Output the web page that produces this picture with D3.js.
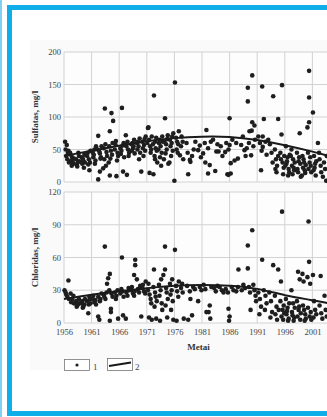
<!DOCTYPE html>
<html><head><meta charset="utf-8">
<script src="https://cdn.jsdelivr.net/npm/d3@7"></script>
<style>
html,body{margin:0;padding:0;background:#fff;overflow:hidden}
svg{display:block}
</style></head>
<body>
<script>
// ---- data ----
const xTicks = [1956,1961,1966,1971,1976,1981,1986,1991,1996,2001];
const sulfTicks = [0,50,100,150,200];
const chlorTicks = [0,30,60,90,120];

const sulfatePoints = [
[1956.2,62],[1956.5,57],[1956.3,50],[1956.7,45],[1956.4,40],[1956.8,48],[1956.6,35],[1956.9,30],
[1957.2,42],[1957.5,38],[1957.3,33],[1957.7,28],[1957.8,36],[1957.1,45],[1957.6,30],[1957.4,25],
[1958.2,35],[1958.5,30],[1958.3,27],[1958.7,40],[1958.8,32],[1958.4,24],[1958.6,45],
[1959.2,38],[1959.5,33],[1959.3,28],[1959.7,42],[1959.8,30],[1959.4,36],[1959.6,22],
[1960.2,40],[1960.5,35],[1960.3,45],[1960.7,30],[1960.6,18],[1960.8,48],[1960.4,27],
[1961.2,45],[1961.5,50],[1961.3,38],[1961.7,33],[1961.8,55],[1961.4,42],[1961.6,28],
[1962.1,50],[1962.5,44],[1962.2,71],[1962.2,4],[1962.5,16],[1962.7,38],[1962.8,55],[1962.4,47],[1962.6,36],
[1963.2,52],[1963.4,113],[1963.1,21],[1963.7,46],[1963.8,40],[1963.5,58],[1963.6,25],[1963.3,35],
[1964.6,106],[1964.3,78],[1964.3,10],[1964.2,55],[1964.5,48],[1964.7,42],[1964.8,60],[1964.4,36],[1964.1,30],[1964.9,94],
[1965.2,50],[1965.5,9],[1965.3,58],[1965.7,45],[1965.8,40],[1965.4,63],[1965.6,33],
[1966.5,114],[1966.7,16],[1966.2,52],[1966.4,48],[1966.6,56],[1966.8,60],[1966.3,43],[1966.9,38],
[1967.2,72],[1967.4,11],[1967.3,55],[1967.6,50],[1967.8,45],[1967.5,62],[1967.1,58],[1967.7,40],
[1968.2,58],[1968.5,52],[1968.3,48],[1968.7,65],[1968.8,44],[1968.4,60],[1968.6,55],
[1969.2,60],[1969.5,55],[1969.3,50],[1969.7,67],[1969.8,45],[1969.4,62],[1969.6,35],
[1970.0,16],[1970.2,62],[1970.5,57],[1970.3,52],[1970.7,48],[1970.8,70],[1970.4,40],[1970.6,66],
[1971.2,83],[1971.5,14],[1971.3,84],[1971.1,60],[1971.6,55],[1971.8,50],[1971.4,65],[1971.7,45],[1971.9,70],
[1972.3,133],[1972.2,12],[1972.1,58],[1972.5,62],[1972.6,52],[1972.8,48],[1972.4,40],[1972.7,68],[1972.9,30],[1972.5,35],
[1973.2,60],[1973.5,55],[1973.3,65],[1973.7,45],[1973.8,70],[1973.4,38],[1973.6,25],[1973.1,50],[1973.9,62],
[1974.3,98],[1974.2,62],[1974.5,58],[1974.6,50],[1974.8,72],[1974.4,44],[1974.7,66],[1974.1,35],[1974.9,28],
[1975.2,65],[1975.5,60],[1975.3,55],[1975.7,48],[1975.8,75],[1975.4,40],[1975.6,70],[1975.1,30],
[1976.1,153],[1976.0,2],[1976.3,68],[1976.5,62],[1976.7,58],[1976.4,50],[1976.8,78],[1976.6,45],
[1977.0,41],[1977.3,70],[1977.5,62],[1977.2,55],[1977.6,35],
[1978.8,34],[1978.5,12],[1978.2,60],[1978.4,45],[1978.9,31],
[1979.5,50],[1979.2,40],[1979.8,62],
[1980.3,49],[1980.6,56],[1980.8,38],
[1981.8,80],[1981.2,44],[1981.5,60],[1981.6,30],
[1982.1,52],[1982.4,26],[1982.1,13],[1982.6,62],
[1983.0,65],[1983.4,17],[1983.6,47],[1983.8,58],
[1984.0,47],[1984.4,55],[1984.7,40],
[1985.2,46],[1985.6,12],[1985.4,60],[1985.8,50],
[1986.0,98],[1986.0,57],[1986.2,29],[1985.8,11],[1986.5,65],[1986.2,13],
[1987.5,36],[1986.9,33],[1987.2,60],
[1988.1,57],[1988.7,49],[1988.4,70],[1988.9,40],
[1989.3,145],[1989.3,124],[1989.6,78],[1989.9,41],[1989.5,60],[1989.1,52],
[1990.1,164],[1990.1,92],[1990.5,87],[1990.0,79],[1990.6,65],[1990.3,55],
[1991.7,18],[1991.2,70],[1991.5,60],[1991.8,48],
[1991.9,147],[1992.2,97],[1992.0,70],[1992.0,54],[1992.5,62],[1992.7,42],
[1993.0,65],[1993.3,58],[1993.6,45],[1993.8,30],
[1993.9,132],[1994.2,50],[1994.4,35],[1994.6,25],[1994.3,20],[1994.8,40],[1994.5,15],
[1994.8,97],[1995.5,149],[1995.4,73],[1995.2,45],[1995.6,30],[1995.8,22],[1995.3,35],[1995.7,12],[1995.9,40],
[1996.2,55],[1996.5,38],[1996.3,28],[1996.7,20],[1996.8,15],[1996.4,32],[1996.6,10],[1996.1,25],[1996.9,42],
[1997.2,50],[1997.5,35],[1997.3,25],[1997.7,18],[1997.8,30],[1997.4,12],[1997.6,22],[1997.1,40],
[1998.7,75],[1998.2,45],[1998.5,32],[1998.3,20],[1998.8,28],[1998.4,15],[1998.6,38],[1998.9,8],
[1999.2,40],[1999.5,30],[1999.3,22],[1999.7,14],[1999.8,26],[1999.4,35],[1999.6,18],[1999.1,10],
[2000.4,171],[2000.4,130],[2000.4,92],[2000.1,84],[2000.2,45],[2000.5,30],[2000.3,20],[2000.7,25],[2000.8,15],[2000.6,38],
[2001.1,107],[2001.3,40],[2001.5,28],[2001.2,18],[2001.7,32],[2001.4,22],[2001.6,10],
[2002.0,60],[2002.3,35],[2002.5,25],[2002.9,8],[2002.2,45],[2002.6,15],
[2003.1,30],[2003.5,2],[2003.3,20],[2003.6,40]
];

const chloridePoints = [
[1956.1,30],[1956.4,26],[1956.8,39],[1956.6,24],[1956.3,28],[1956.9,22],
[1957.2,27],[1957.5,22],[1957.3,19],[1957.7,25],[1957.8,18],
[1958.2,20],[1958.5,17],[1958.3,15],[1958.7,22],[1958.8,18],[1958.4,16],
[1959.2,18],[1959.5,15],[1959.3,20],[1959.7,17],[1959.8,22],[1959.4,14],
[1960.2,20],[1960.5,17],[1960.4,9],[1960.7,22],[1960.8,18],[1960.6,24],
[1961.2,22],[1961.5,19],[1961.3,25],[1961.7,21],[1961.8,17],
[1962.2,24],[1962.2,6],[1962.4,3],[1962.6,22],[1962.8,27],[1962.5,20],
[1963.4,70],[1963.8,36],[1963.2,26],[1963.5,22],[1963.7,28],[1963.3,24],
[1964.3,45],[1964.0,41],[1964.5,13],[1964.5,10],[1964.3,2],[1964.6,27],[1964.8,24],[1964.2,30],
[1965.8,4],[1965.2,28],[1965.5,25],[1965.7,30],[1965.4,22],
[1966.5,60],[1966.7,7],[1966.2,27],[1966.4,31],[1966.8,24],[1966.6,29],
[1967.2,4],[1967.3,28],[1967.5,25],[1967.7,32],[1967.8,30],
[1968.2,30],[1968.5,27],[1968.3,33],[1968.7,25],[1968.8,29],
[1968.9,58],[1968.9,53],[1968.7,44],[1969.2,40],[1969.4,31],[1969.6,28],[1969.8,34],
[1970.0,6],[1970.2,32],[1970.5,29],[1970.3,35],[1970.7,27],[1970.8,38],
[1971.2,30],[1971.5,26],[1971.3,36],[1971.7,22],[1971.8,18],[1971.4,5],[1971.9,3],
[1972.3,49],[1972.2,33],[1972.5,28],[1972.6,24],[1972.8,20],[1972.4,15],[1972.7,4],
[1973.2,35],[1973.5,30],[1973.3,25],[1973.7,18],[1973.8,12],[1973.4,2],[1973.6,40],
[1974.3,70],[1974.3,49],[1974.0,44],[1974.5,32],[1974.6,28],[1974.8,22],[1974.4,16],[1974.7,5],
[1975.2,36],[1975.5,30],[1975.3,26],[1975.7,20],[1975.8,3],[1975.4,12],[1975.6,40],
[1976.1,67],[1976.3,34],[1976.5,29],[1976.7,24],[1976.4,2],[1976.8,38],
[1977.2,32],[1977.5,28],[1977.7,4],[1977.4,36],
[1978.8,29],[1978.3,34],[1978.5,3],[1978.9,22],
[1979.4,33],[1979.7,31],[1979.2,7],
[1980.3,20],[1980.6,33],[1980.9,30],
[1981.3,35],[1981.6,31],[1981.8,10],
[1982.4,16],[1982.2,10],[1982.5,4],[1982.7,33],
[1983.2,32],[1983.5,29],[1983.8,34],
[1984.2,33],[1984.6,30],[1984.9,28],
[1985.3,31],[1985.7,28],[1985.8,13],
[1986.0,6],[1985.9,2],[1986.4,33],[1986.7,30],
[1987.2,29],[1987.5,33],[1987.6,49],
[1988.2,30],[1988.5,35],[1988.8,32],
[1989.3,71],[1989.3,50],[1989.5,33],[1989.7,28],[1989.8,12],
[1990.1,85],[1990.3,35],[1990.5,30],[1990.7,25],[1990.8,20],
[1991.9,58],[1991.2,28],[1991.5,22],[1991.7,15],[1991.4,8],
[1992.2,30],[1992.5,25],[1992.7,18],[1992.4,12],
[1993.9,53],[1993.2,28],[1993.5,20],[1993.7,10],[1993.4,5],
[1994.8,49],[1994.2,25],[1994.5,15],[1994.3,8],[1994.6,3],[1994.9,12],
[1995.5,102],[1995.3,38],[1995.2,20],[1995.6,12],[1995.4,6],[1995.7,3],[1995.8,16],[1995.9,9],
[1996.2,22],[1996.5,14],[1996.3,8],[1996.7,4],[1996.8,18],[1996.4,11],[1996.6,2],
[1997.2,30],[1997.5,18],[1997.3,10],[1997.7,5],[1997.8,14],[1997.4,7],[1997.6,2],
[1998.4,47],[1998.7,40],[1998.2,20],[1998.5,12],[1998.3,6],[1998.8,3],[1998.6,15],[1998.9,9],
[1999.2,45],[1999.4,38],[1999.3,16],[1999.7,8],[1999.8,4],[1999.5,12],[1999.6,2],
[2000.3,93],[2000.4,56],[2000.1,42],[2000.6,36],[2000.2,14],[2000.5,6],[2000.7,10],[2000.8,3],
[2001.1,44],[2001.3,20],[2001.5,12],[2001.2,5],[2001.7,8],
[2002.5,43],[2002.3,16],[2002.6,9],[2002.8,4],
[2003.2,25],[2003.4,12],[2003.6,6]
];

const sulfateTrend = [[1956,40],[1961,48],[1966,56],[1971,63],[1976,68],[1981,70],[1986,70],[1991,65],[1996,57],[2001,47],[2004,40]];
const chlorideTrend = [[1956,22],[1961,26],[1966,29],[1971,32],[1976,34.5],[1981,35],[1986,34.5],[1991,32],[1996,25],[2001,21],[2004,18]];

// ---- layout ----
const W = 327, H = 417;
const svg = d3.select("body").append("svg").attr("width", W).attr("height", H);

// frame
svg.append("rect").attr("x",0).attr("y",0).attr("width",2).attr("height",H).attr("fill","#7fd0f2");
svg.append("rect").attr("x",30).attr("y",40).attr("width",W-30).attr("height",330).attr("fill","#fafafa");

const x = d3.scaleLinear().domain([1956, 2001]).range([64, 312.4]);
const ys = d3.scaleLinear().domain([0, 200]).range([182, 52]);
const yc = d3.scaleLinear().domain([0, 120]).range([323, 192]);
const xRight = 345;

function panel(y, ticks, pts, trend, title) {
  const g = svg.append("g");
  g.append("rect").attr("x", x(1956)).attr("y", y(ticks[ticks.length-1]))
    .attr("width", xRight - x(1956)).attr("height", y(0) - y(ticks[ticks.length-1])).attr("fill", "#fdfdfd");
  // gridlines
  g.selectAll(".hg").data(ticks).join("line")
    .attr("x1", x(1956)).attr("x2", xRight).attr("y1", d => y(d)).attr("y2", d => y(d))
    .attr("stroke", "#d2d2d2").attr("stroke-width", 1);
  const vt = xTicks.concat([2006]);
  g.selectAll(".vg").data(vt).join("line")
    .attr("x1", d => x(d)).attr("x2", d => x(d)).attr("y1", y(0)).attr("y2", y(ticks[ticks.length-1]))
    .attr("stroke", "#d2d2d2").attr("stroke-width", 1);
  // y axis labels
  const ax = d3.axisLeft(y).tickValues(ticks).tickSize(0).tickPadding(3);
  const a = g.append("g").attr("transform", `translate(${x(1956)},0)`).call(ax);
  a.select(".domain").remove();
  a.selectAll("text").attr("font-family", "Liberation Serif").attr("font-size", 8.5).attr("fill", "#444");
  // points
  g.selectAll(".pt").data(pts).join("circle")
    .attr("cx", d => x(d[0])).attr("cy", d => y(d[1])).attr("r", 2.3).attr("fill", "#1e1e1e");
  // trend
  g.append("path").datum(trend)
    .attr("d", d3.line().x(d => x(d[0])).y(d => y(d[1])).curve(d3.curveBasis))
    .attr("fill", "none").attr("stroke", "#1a1a1a").attr("stroke-width", 2);
  // title
  const cy = (y(0) + y(ticks[ticks.length-1])) / 2;
  g.append("text").attr("transform", `translate(38,${cy}) rotate(-90)`)
    .attr("text-anchor", "middle").attr("font-family", "Liberation Serif").attr("font-weight", "bold")
    .attr("font-size", 9).attr("fill", "#333").text(title);
}
panel(ys, sulfTicks, sulfatePoints, sulfateTrend, "Sulfatas, mg/l");
panel(yc, chlorTicks, chloridePoints, chlorideTrend, "Chloridas, mg/l");

// x axis labels
const xa = d3.axisBottom(x).tickValues(xTicks).tickFormat(d3.format("d")).tickSize(0).tickPadding(6);
const xg = svg.append("g").attr("transform", `translate(0,${yc(0)})`).call(xa);
xg.select(".domain").remove();
xg.selectAll("text").attr("font-family", "Liberation Serif").attr("font-size", 8.5).attr("fill", "#444");
svg.append("text").attr("x", (x(1956) + W) / 2 + 3).attr("y", 350).attr("text-anchor", "middle")
  .attr("font-family", "Liberation Serif").attr("font-weight", "bold").attr("font-size", 9).attr("fill", "#333").text("Metai");

// legend
const leg = svg.append("g");
leg.append("rect").attr("x", 64.5).attr("y", 359.5).attr("width", 25).attr("height", 11).attr("fill", "#fff").attr("stroke", "#777").attr("stroke-width", 0.8);
leg.append("circle").attr("cx", 77).attr("cy", 365).attr("r", 1.6).attr("fill", "#1e1e1e");
leg.append("text").attr("x", 93).attr("y", 370).attr("font-family", "Liberation Serif").attr("font-size", 9).attr("fill", "#444").text("1");
leg.append("rect").attr("x", 107.5).attr("y", 358.5).attr("width", 25).attr("height", 12).attr("fill", "#fff").attr("stroke", "#777").attr("stroke-width", 0.8);
leg.append("line").attr("x1", 109).attr("y1", 366).attr("x2", 131).attr("y2", 362.5).attr("stroke", "#1a1a1a").attr("stroke-width", 2);
leg.append("text").attr("x", 135).attr("y", 370).attr("font-family", "Liberation Serif").attr("font-size", 9).attr("fill", "#444").text("2");

// blue frame
svg.append("rect").attr("x", 7).attr("y", 5).attr("width", W - 7).attr("height", 5).attr("fill", "#10aee9");
svg.append("rect").attr("x", 7).attr("y", 5).attr("width", 5).attr("height", 412 - 5).attr("fill", "#10aee9");
svg.append("rect").attr("x", 7).attr("y", 411).attr("width", W - 7).attr("height", 5).attr("fill", "#10aee9");
</script>
</body></html>
